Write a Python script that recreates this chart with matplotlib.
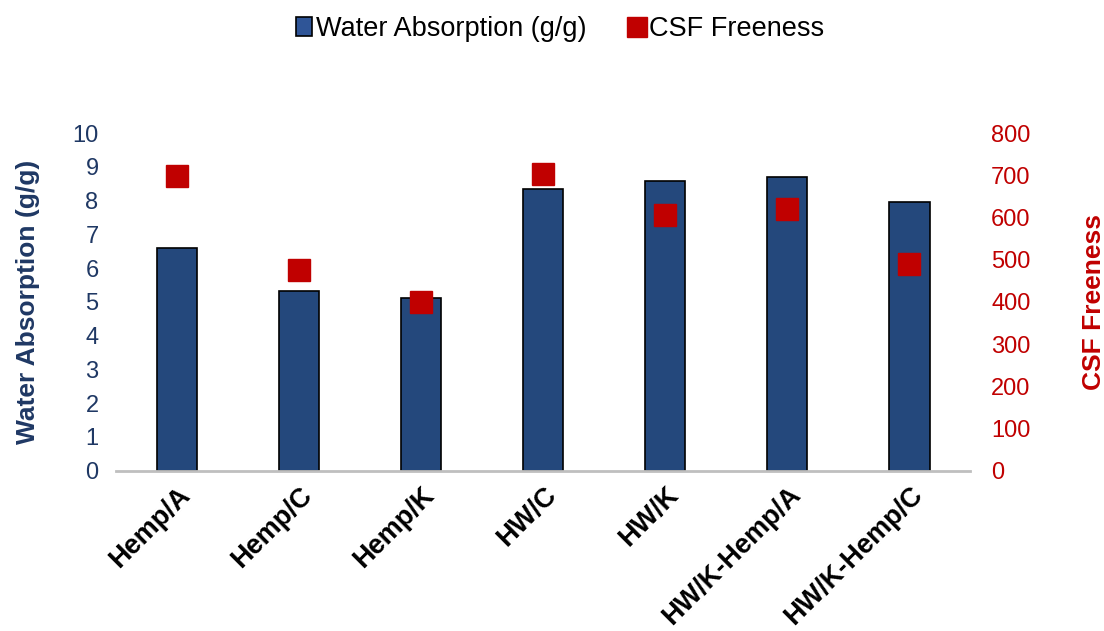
import numpy as np
import matplotlib.pyplot as plt
from matplotlib.patches import Patch
from matplotlib.lines import Line2D

plt.rcParams['font.family'] = ['Liberation Sans', 'DejaVu Sans']

samples = ['Hemp/A', 'Hemp/C', 'Hemp/K', 'HW/C', 'HW/K', 'HW/K-Hemp/A', 'HW/K-Hemp/C']
water_absorption = [6.6, 5.33, 5.12, 8.34, 8.58, 8.7, 7.96]
csf_freeness = [698, 476, 400, 703, 606, 620, 490]

navy = '#1F3864'
red = '#C00000'

fig = plt.figure(figsize=(11.04, 6.31), dpi=100)
ax = fig.add_axes([0.105, 0.254, 0.774, 0.535])
x = np.arange(len(samples))

ax.bar(x, water_absorption, width=0.33, color='#24487C', edgecolor='black', linewidth=1.2, zorder=2)
ax.set_xlim(-0.5, len(samples) - 0.5)
ax.set_ylim(0, 10)
ax.set_yticks(range(0, 11))
ax.tick_params(axis='y', length=0, labelsize=17, labelcolor=navy, pad=12.5)
ax.tick_params(axis='x', length=0, pad=8)
ax.set_xticks(x)
ax.set_xticklabels(samples, rotation=45, ha='right', rotation_mode='anchor',
                   fontsize=19.5, fontweight='bold')
ax.set_ylabel('Water Absorption (g/g)', fontsize=19, fontweight='bold', color=navy, labelpad=23)
for s in ['top', 'right', 'left']:
    ax.spines[s].set_visible(False)
ax.spines['bottom'].set_color('#BFBFBF')
ax.spines['bottom'].set_linewidth(2)

ax2 = ax.twinx()
ax2.plot(x, csf_freeness, 's', color=red, markersize=16, zorder=3)
ax2.set_ylim(0, 800)
ax2.set_yticks(range(0, 801, 100))
ax2.tick_params(axis='y', length=0, labelsize=17, labelcolor=red, pad=15)
ax2.set_ylabel('CSF Freeness', fontsize=19, fontweight='bold', color=red, labelpad=37)
for s in ['top', 'right', 'left', 'bottom']:
    ax2.spines[s].set_visible(False)

handles = [Patch(facecolor='#2F5597', edgecolor='black', linewidth=1.2),
           Line2D([], [], marker='s', color=red, linestyle='none', markersize=15)]
fig.legend(handles, ['Water Absorption (g/g)', 'CSF Freeness'], loc='upper center',
           bbox_to_anchor=(0.507, 1.013), ncol=2, frameon=False, fontsize=19.5,
           handlelength=0.6, handletextpad=0.15, columnspacing=1.55)

fig.savefig('out.png', dpi=100)
